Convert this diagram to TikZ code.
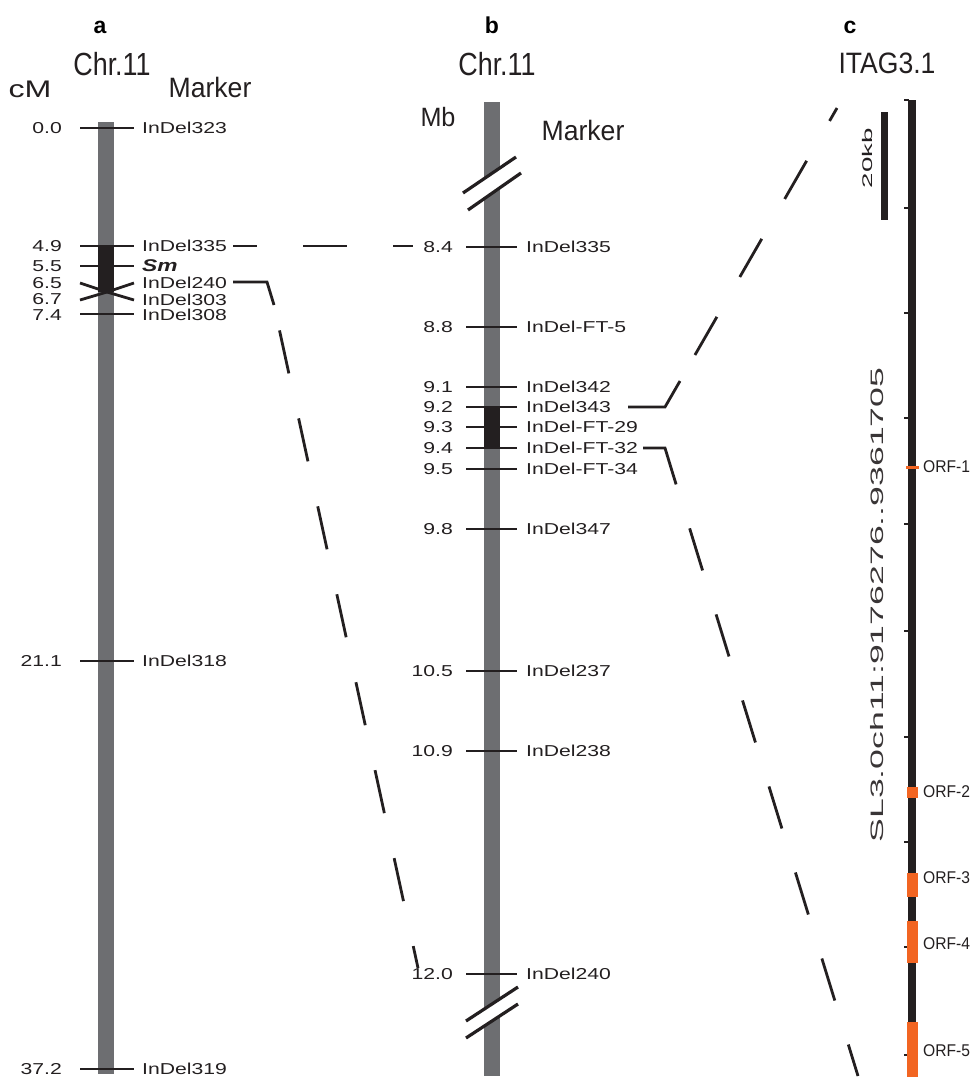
\documentclass[tikz,border=0pt]{standalone}
\usepackage{fontspec}
\setmainfont{Liberation Sans}
\newfontfamily\mkfont[FakeStretch=1.34]{Liberation Sans}
\newfontfamily\ttlfont[FakeStretch=0.84]{Liberation Sans}
\newfontfamily\itagfont[FakeStretch=0.9]{Liberation Sans}
\newfontfamily\hdfont[FakeStretch=0.95]{Liberation Sans}
\newfontfamily\widefont[FakeStretch=1.98]{Liberation Sans}
\newfontfamily\orffont[FakeStretch=0.92]{Liberation Sans}
\definecolor{chrgray}{HTML}{6D6E71}
\definecolor{ink}{HTML}{231F20}
\definecolor{orf}{HTML}{F26522}

\begin{document}
\begin{tikzpicture}[x=1pt,y=-1pt,
  mk/.style={inner sep=0pt, text=ink, font=\mkfont\fontsize{15.8}{16}\selectfont},
  posnum/.style={mk, anchor=east},
  mklab/.style={mk, anchor=west},
  panel/.style={inner sep=0pt, anchor=base, text=black, font=\bfseries\fontsize{23}{24}\selectfont},
  chrttl/.style={inner sep=0pt, anchor=base, text=ink, font=\ttlfont\fontsize{32}{34}\selectfont},
  colhd/.style={inner sep=0pt, anchor=base, text=ink, font=\hdfont\fontsize{28}{30}\selectfont},
  tickln/.style={draw=ink, line width=2.8pt},
  corner/.style={draw=ink, line width=2.8pt},
  link/.style={draw=ink, line width=2.8pt, dash pattern=on 44pt off 46pt},
  breakln/.style={draw=ink, line width=3.2pt},
  ctick/.style={draw=ink, line width=2.2pt},
  orflab/.style={inner sep=0pt, anchor=west, text=ink, font=\orffont\fontsize{17}{18}\selectfont}]

\useasboundingbox (0,0) rectangle (971,1077);

% ---------- panel a: genetic map ----------
\node[panel] (pa) at (100,33) {a};
\node[chrttl] (chra) at (112,75) {Chr.11};
\node[inner sep=0pt, anchor=base, text=ink, font=\mkfont\fontsize{24}{26}\selectfont] (cm) at (30,97) {cM};
\node[colhd] (mka) at (210,97) {Marker};

\fill[chrgray] (98,122) rectangle (114,1074);
\fill[ink] (98,246) rectangle (114,292);

\foreach \y/\n/\m in {128/0.0/InDel323, 246/4.9/InDel335,
                      661/21.1/InDel318, 1069/37.2/InDel319} {
  \draw[tickln] (80,\y) -- (134,\y);
  \node[posnum] (an\y) at (62,\y) {\n};
  \node[mklab] (am\y) at (142,\y) {\m};
}
\draw[tickln] (80,266) -- (134,266);
\node[posnum] (an266) at (62,266) {5.5};
\node[mklab, font=\mkfont\bfseries\itshape\fontsize{17}{18}\selectfont] (am266) at (142,266) {Sm};

% crossing ticks of InDel240 / InDel303
\draw[tickln] (80,283) -- (107,292) -- (134,283);
\draw[tickln] (80,300) -- (107,292) -- (134,300);
\node[posnum] (an283) at (62,283) {6.5};
\node[mklab] (am283) at (142,283) {InDel240};
\node[posnum] (an300) at (62,299.5) {6.7};
\node[mklab] (am300) at (142,299.5) {InDel303};
\draw[tickln] (80,314) -- (134,314);
\node[posnum] (an314) at (62,315) {7.4};
\node[mklab] (am314) at (142,315) {InDel308};

% ---------- panel b: physical map ----------
\node[panel] (pb) at (492,33) {b};
\node[chrttl] (chrb) at (497,75) {Chr.11};
\node[colhd, font=\hdfont\fontsize{26.5}{28}\selectfont] (mb) at (438,126) {Mb};
\node[colhd] (mkb) at (583,140) {Marker};

\fill[chrgray] (484,102) rectangle (500,1076);
\fill[ink] (484,407) rectangle (500,448);
% axis breaks
\fill[white] (463,193) -- (516,157) -- (521,173) -- (468,210) -- cycle;
\draw[breakln] (463,193) -- (516,157);
\draw[breakln] (468,210) -- (521,173);
\fill[white] (466,1021) -- (518,987) -- (518,1004) -- (466,1038) -- cycle;
\draw[breakln] (466,1021) -- (518,987);
\draw[breakln] (466,1038) -- (518,1004);

\foreach \y/\n/\m in {247/8.4/InDel335, 327/8.8/InDel-FT-5, 387/9.1/InDel342,
                      407/9.2/InDel343, 427/9.3/InDel-FT-29, 448/9.4/InDel-FT-32,
                      469/9.5/InDel-FT-34, 529/9.8/InDel347, 671/10.5/InDel237,
                      751/10.9/InDel238, 974/12.0/InDel240} {
  \draw[tickln] (466,\y) -- (517,\y);
  \node[posnum] (bn\y) at (453,\y) {\n};
  \node[mklab] (bm\y) at (526,\y) {\m};
}

% ---------- panel c: ITAG3.1 interval ----------
\node[panel] (pc) at (850,33) {c};
\node[inner sep=0pt, anchor=base, text=ink, font=\itagfont\fontsize{29.5}{31}\selectfont] (itag) at (887,73) {ITAG3.1};

\fill[ink] (908,100) rectangle (916,1077);
\foreach \y in {100,208,313,418,524,631,737,842,947,1055}
  \draw[ctick] (904,\y) -- (909,\y);

% scale bar
\fill[ink] (881,112) rectangle (888,220);
\node[inner sep=0pt, rotate=90, text=ink, font=\widefont\fontsize{14}{14}\selectfont] (kb) at (867,158) {20kb};

\node[inner sep=0pt, rotate=90, text=ink!90, font=\widefont\fontsize{18}{18}\selectfont] (reg) at (877,605) {SL3.0ch11:9176276..9361705};

% open reading frames
\fill[orf] (906,465.5) rectangle (919,468.5);
\fill[orf] (907,787) rectangle (918,798);
\fill[orf] (907,873) rectangle (918,897);
\fill[orf] (907,921) rectangle (918,963);
\fill[orf] (907,1022) rectangle (918,1077);
\node[orflab] (o1) at (923,467) {ORF-1};
\node[orflab] (o2) at (923,792) {ORF-2};
\node[orflab] (o3) at (923,878) {ORF-3};
\node[orflab] (o4) at (923,944) {ORF-4};
\node[orflab] (o5) at (923,1051) {ORF-5};

% ---------- links between the maps ----------
\coordinate (s335) at (233,246);
\coordinate (e335) at (413,246);
\draw[link, dash phase=20pt] (s335) -- (e335);

\coordinate (s240) at (233,282);
\coordinate (k240) at (267,282);
\coordinate (c240) at (274,305);
\coordinate (e240) at (418,968);
\draw[corner] (s240) -- (k240) -- (c240);
\draw[link, dash phase=64pt] (c240) -- (e240);

\coordinate (s343) at (628,407);
\coordinate (k343) at (665,407);
\coordinate (c343) at (680,381);
\coordinate (e343) at (837,108);
\draw[corner] (s343) -- (k343) -- (c343);
\draw[link, dash phase=60pt] (c343) -- (e343);

\coordinate (s32) at (643,448);
\coordinate (k32) at (665,448);
\coordinate (c32) at (672,471);
\coordinate (e32) at (858,1076);
\draw[corner] (s32) -- (k32) -- (c32);
\draw[link, dash phase=30pt] (c32) -- (e32);
\end{tikzpicture}
\end{document}
